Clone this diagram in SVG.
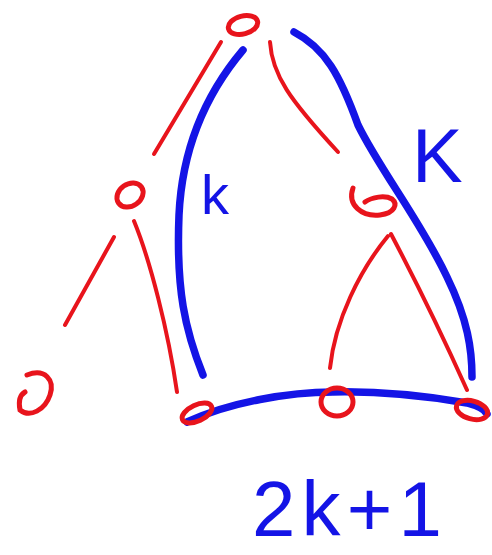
<svg xmlns="http://www.w3.org/2000/svg" width="492" height="555" viewBox="0 0 492 555">
<style>
.r{fill:none;stroke:#e8141c;stroke-width:4;stroke-linecap:round;stroke-linejoin:round}
.rn{fill:none;stroke:#e8141c;stroke-width:5;stroke-linecap:round}
.b{fill:none;stroke:#1414e6;stroke-width:7.5;stroke-linecap:round;stroke-linejoin:round}
.t{fill:#1414e6;font-family:"Liberation Sans",Arial,sans-serif}
</style>
<rect width="492" height="555" fill="#fff"/>
<g id="edges">
<path class="r" d="M221,42 L154,154"/>
<path class="r" d="M270,42 C272,75 290,100 338,152"/>
<path class="r" d="M114,237 L65,325"/>
<path class="r" d="M134,221 C150,260 168,330 177,392"/>
<path class="r" d="M388,236 C360,270 335,320 330,368"/>
<path class="r" d="M391,234 C410,270 440,330 467,390"/>
<path class="b" d="M243,50 C205,95 182,150 179,215 C176,290 185,330 203,375"/>
<path class="b" d="M294,32 C325,48 340,75 358,125 C380,170 420,220 447,277 C468,320 472,350 472,377"/>
<path class="b" d="M187,422 C230,402 290,392 333,392 C380,391 420,395 467,403 C478,406 485,410 487,414"/>
</g>
<g id="n-top"><ellipse class="rn" cx="243" cy="25" rx="15" ry="9" transform="rotate(-15 243 25)"/></g>
<g id="n-left"><ellipse class="rn" cx="130" cy="195" rx="14" ry="11" transform="rotate(-35 130 195)"/></g>
<g id="n-right"><path class="rn" d="M353,188 C347,205 362,217 380,215 C395,213 398,204 392,199 C385,195 372,197 365,202"/></g>
<g id="n-ll"><path class="rn" d="M27,375 C45,368 55,380 50,395 C45,410 30,418 20,410 C18,400 20,395 25,392"/></g>
<g id="n-bl"><ellipse class="rn" cx="197" cy="413" rx="16" ry="8" transform="rotate(-25 197 413)"/></g>
<g id="n-bm"><ellipse class="rn" cx="337" cy="402" rx="16" ry="14"/></g>
<g id="n-br"><ellipse class="rn" cx="472" cy="410" rx="16" ry="9" transform="rotate(15 472 410)"/></g>
<g id="labels">
<text class="t" x="201" y="214" font-size="56">k</text>
<text class="t" x="412" y="182" font-size="76">K</text>
<text class="t" x="252" y="536" font-size="78" textLength="190" lengthAdjust="spacing">2k+1</text>
</g>
</svg>
